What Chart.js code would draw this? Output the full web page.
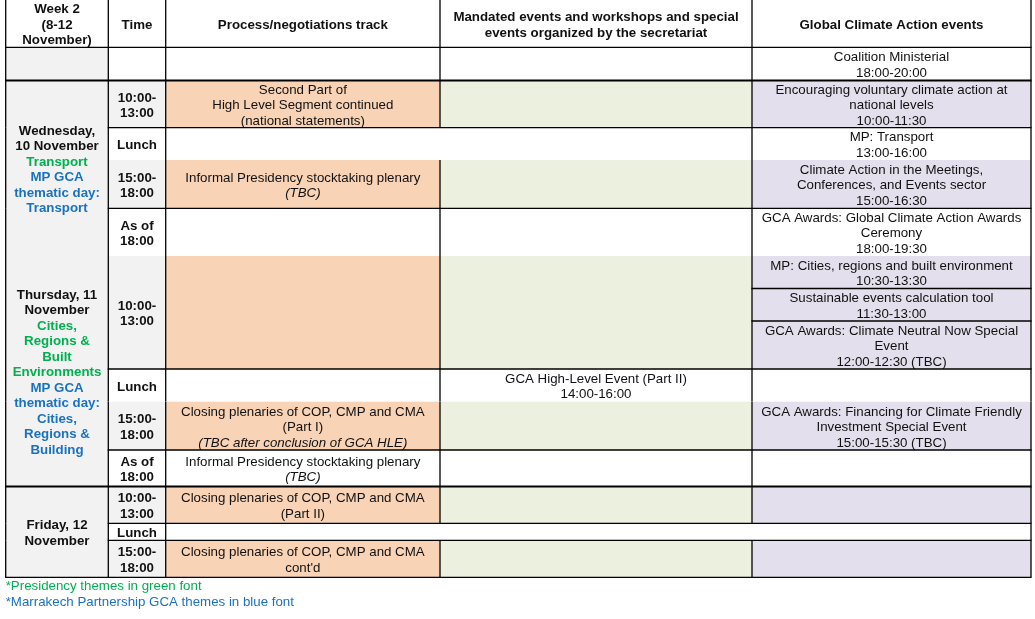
<!DOCTYPE html>
<html>
<head>
<meta charset="utf-8">
<script src="https://cdn.jsdelivr.net/npm/chart.js@4.4.1/dist/chart.umd.min.js"></script>
<style>
  html, body { margin: 0; padding: 0; background: #fff; }
  #wrap { width: 1035px; height: 619px; }
</style>
</head>
<body>
<div id="wrap"><canvas id="agenda" width="1035" height="619"></canvas></div>
<script>
// ---- table content ----
const columnTitles = [
  ['Week 2', '(8-12', 'November)'],
  ['Time'],
  ['Process/negotiations track'],
  ['Mandated events and workshops and special', 'events organized by the secretariat'],
  ['Global Climate Action events']
];

// k = black, g = presidency theme (green), b = GCA theme (blue)
const dayLabels = [
  [],
  [['Wednesday,', 'k'], ['10 November', 'k'], ['Transport', 'g'], ['MP GCA', 'b'], ['thematic day:', 'b'], ['Transport', 'b']],
  [['Thursday, 11', 'k'], ['November', 'k'], ['Cities,', 'g'], ['Regions &', 'g'], ['Built', 'g'], ['Environments', 'g'],
   ['MP GCA', 'b'], ['thematic day:', 'b'], ['Cities,', 'b'], ['Regions &', 'b'], ['Building', 'b']],
  [['Friday, 12', 'k'], ['November', 'k']]
];

const slotKinds = ['pre', 'am', 'lunch', 'pm', 'eve', 'am', 'lunch', 'pm', 'eve', 'am', 'lunch', 'pm'];

const timeSlots = [
  [], ['10:00-', '13:00'], ['Lunch'], ['15:00-', '18:00'], ['As of', '18:00'],
  ['10:00-', '13:00'], ['Lunch'], ['15:00-', '18:00'], ['As of', '18:00'],
  ['10:00-', '13:00'], ['Lunch'], ['15:00-', '18:00']
];

const TBC = { t: '(TBC)', i: true };
const processTrack = [
  [],
  ['Second Part of', 'High Level Segment continued', '(national statements)'],
  [],
  ['Informal Presidency stocktaking plenary', TBC],
  [],
  [],
  [],
  ['Closing plenaries of COP, CMP and CMA', '(Part I)', { t: '(TBC after conclusion of GCA HLE)', i: true }],
  ['Informal Presidency stocktaking plenary', TBC],
  ['Closing plenaries of COP, CMP and CMA', '(Part II)'],
  [],
  ['Closing plenaries of COP, CMP and CMA', "cont'd"]
];

// null = merged into the cell on its left
const mandatedEvents = [
  [], [], null, [], [], [], ['GCA High-Level Event (Part II)', '14:00-16:00'], [], [], [], null, []
];

const gcaEvents = [
  ['Coalition Ministerial', '18:00-20:00'],
  ['Encouraging voluntary climate action at', 'national levels', '10:00-11:30'],
  ['MP: Transport', '13:00-16:00'],
  ['Climate Action in the Meetings,', 'Conferences, and Events sector', '15:00-16:30'],
  ['GCA Awards: Global Climate Action Awards', 'Ceremony', '18:00-19:30'],
  [
    ['MP: Cities, regions and built environment', '10:30-13:30'],
    ['Sustainable events calculation tool', '11:30-13:00'],
    ['GCA Awards: Climate Neutral Now Special', 'Event', '12:00-12:30 (TBC)']
  ],
  [],
  ['GCA Awards: Financing for Climate Friendly', 'Investment Special Event', '15:00-15:30 (TBC)'],
  [],
  [],
  null,
  []
];

const footnotes = [
  ['*Presidency themes in green font', 'g'],
  ['*Marrakech Partnership GCA themes in blue font', 'b']
];

// ---- layout (scale units) ----
const COL_EDGES = [5.7, 108.3, 165.7, 440, 752, 1031];
const ROW_EDGES = [0, 47.3, 80.5, 127.7, 160, 208.3, 256, 369, 401.7, 450, 486.5, 523.3, 540.3, 577.3];
const GCA_SPLIT = [256, 288.5, 321, 369];
const DAY_SPANS = [[0, 0], [1, 4], [5, 8], [9, 11]];
// line width of each horizontal row edge, and whether it crosses the day column
const RULE_WIDTH = [0, 1.3, 2.2, 1.3, 0, 1.3, 0, 1.3, 0, 1.3, 2.2, 1.3, 1.3, 1.3];
const RULE_FULL = [false, true, true, false, false, false, false, false, false, false, true, false, false, true];
const LINE_H = 15.5;
const TEXT_DY = 1.5;
const FONT = "'Liberation Sans', Arial, sans-serif";
const FS = 13.3;
const COLORS = {
  k: '#111111', g: '#00b050', b: '#1a72bf',
  day: '#f2f2f2', time: '#f2f2f2', process: '#f8d3b5', mandated: '#ebf1de', gca: '#e4dfec'
};

const tablePlugin = {
  id: 'agendaTable',
  afterDraw(chart) {
    const { ctx, scales: { x, y } } = chart;
    const px = v => x.getPixelForValue(v);
    const py = v => y.getPixelForValue(v);

    const fillCell = (x0, x1, y0, y1, color) => {
      if (!color) return;
      ctx.fillStyle = color;
      ctx.fillRect(px(x0), py(y0), px(x1) - px(x0), py(y1) - py(y0));
    };
    const writeLines = (lines, x0, x1, y0, y1, bold) => {
      if (!lines || !lines.length) return;
      const cx = (px(x0) + px(x1)) / 2;
      const cy = (py(y0) + py(y1)) / 2 + TEXT_DY;
      ctx.textAlign = 'center';
      ctx.textBaseline = 'middle';
      lines.forEach((ln, i) => {
        let text = ln, color = COLORS.k, italic = false;
        if (Array.isArray(ln)) { text = ln[0]; color = COLORS[ln[1]]; }
        else if (typeof ln === 'object') { text = ln.t; italic = !!ln.i; }
        ctx.fillStyle = color;
        ctx.font = (italic ? 'italic ' : '') + (bold ? 'bold ' : '') + FS + 'px ' + FONT;
        ctx.fillText(text, cx, cy + (i - (lines.length - 1) / 2) * LINE_H);
      });
    };
    const hLine = (x0, x1, yv, w) => {
      if (!w) return;
      ctx.strokeStyle = '#000';
      ctx.lineWidth = w;
      ctx.beginPath();
      ctx.moveTo(px(x0) - 0.6, py(yv));
      ctx.lineTo(px(x1) + 0.6, py(yv));
      ctx.stroke();
    };
    const vLine = (xv, y0, y1) => {
      ctx.strokeStyle = '#000';
      ctx.lineWidth = 1.3;
      ctx.beginPath();
      ctx.moveTo(px(xv), py(y0));
      ctx.lineTo(px(xv), py(y1));
      ctx.stroke();
    };

    ctx.save();
    const C = COL_EDGES;
    const top = r => ROW_EDGES[r + 1];
    const bot = r => ROW_EDGES[r + 2];

    // header row
    columnTitles.forEach((lines, c) => writeLines(lines, C[c], C[c + 1], ROW_EDGES[0], ROW_EDGES[1], true));

    // day column
    DAY_SPANS.forEach(([r0, r1], d) => {
      fillCell(C[0], C[1], top(r0), bot(r1), COLORS.day);
      writeLines(dayLabels[d], C[0], C[1], top(r0), bot(r1), true);
    });

    // body rows
    slotKinds.forEach((kind, r) => {
      const y0 = top(r), y1 = bot(r);
      const busy = kind === 'am' || kind === 'pm';
      fillCell(C[1], C[2], y0, y1, busy ? COLORS.time : null);
      writeLines(timeSlots[r], C[1], C[2], y0, y1, true);

      // process cell may span to the right
      let pEnd = 3;
      if (mandatedEvents[r] === null) pEnd = gcaEvents[r] === null ? 5 : 4;
      fillCell(C[2], C[pEnd], y0, y1, busy ? COLORS.process : null);
      writeLines(processTrack[r], C[2], C[pEnd], y0, y1, false);

      if (mandatedEvents[r] !== null) {
        fillCell(C[3], C[4], y0, y1, busy ? COLORS.mandated : null);
        writeLines(mandatedEvents[r], C[3], C[4], y0, y1, false);
      }
      const g = gcaEvents[r];
      if (g !== null) {
        fillCell(C[4], C[5], y0, y1, busy ? COLORS.gca : null);
        if (g.length && Array.isArray(g[0])) {
          g.forEach((sub, s) => writeLines(sub, C[4], C[5], GCA_SPLIT[s], GCA_SPLIT[s + 1], false));
        } else {
          writeLines(g, C[4], C[5], y0, y1, false);
        }
      }

      // vertical rules inside the row
      const edges = [0, 1, 2];
      if (pEnd === 3) edges.push(3);
      if (pEnd <= 4) edges.push(4);
      edges.push(5);
      edges.forEach(e => vLine(C[e], y0, y1));
    });

    // header verticals
    C.forEach(xv => vLine(xv, ROW_EDGES[0], ROW_EDGES[1]));

    // horizontal rules
    ROW_EDGES.forEach((yv, e) => hLine(RULE_FULL[e] ? C[0] : C[1], C[5], yv, RULE_WIDTH[e]));
    for (let s = 1; s < GCA_SPLIT.length - 1; s++) hLine(C[4], C[5], GCA_SPLIT[s], 1.3);

    // footnotes
    footnotes.forEach(([text, col], i) => {
      ctx.fillStyle = COLORS[col];
      ctx.font = FS + 'px ' + FONT;
      ctx.textAlign = 'left';
      ctx.textBaseline = 'middle';
      ctx.fillText(text, px(C[0]), py(586 + i * 16));
    });
    ctx.restore();
  }
};

new Chart(document.getElementById('agenda'), {
  type: 'scatter',
  data: { datasets: [] },
  options: {
    responsive: false,
    animation: false,
    events: [],
    layout: { padding: 0 },
    plugins: { legend: { display: false }, tooltip: { enabled: false } },
    scales: {
      x: { type: 'linear', min: 0, max: 1035, display: false },
      y: { type: 'linear', min: 0, max: 619, reverse: true, display: false }
    }
  },
  plugins: [tablePlugin]
});
</script>
</body>
</html>
